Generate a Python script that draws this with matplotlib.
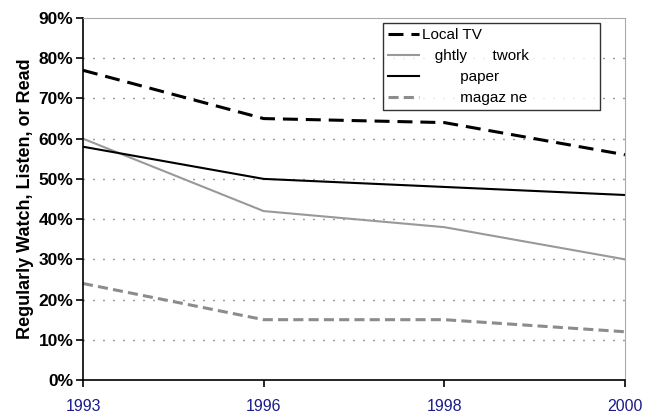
import matplotlib.pyplot as plt
from matplotlib.ticker import FuncFormatter

years = ['1993', '1996', '1998', '2000']
local_tv = [77, 65, 64, 56]
nightly_network = [60, 42, 38, 30]
newspaper = [58, 50, 48, 46]
magazine = [24, 15, 15, 12]
# legend text as it shows in the picture (some glyphs are missing there)
labels = ['Local TV', '   ghtly      twork', '         paper', '         magaz ne']

plt.rcParams['font.family'] = ['Liberation Sans', 'DejaVu Sans']

fig = plt.figure(figsize=(6.5, 4.16), dpi=100)
ax = fig.add_axes([0.1277, 0.0865, 0.8338, 0.8702])

x = range(len(years))
ax.plot(x, local_tv, color='black', lw=2.2, dashes=(4.9, 2.6), label=labels[0])
ax.plot(x, nightly_network, color='#999999', lw=1.5, label=labels[1])
ax.plot(x, newspaper, color='black', lw=1.5, label=labels[2])
ax.plot(x, magazine, color='#8c8c8c', lw=2.2, dashes=(3.3, 1.7), label=labels[3])

ax.set_xlim(0, 3)
ax.set_ylim(0, 90)
ax.set_yticks(range(0, 91, 10))
ax.yaxis.set_major_formatter(FuncFormatter(lambda v, p: f'{int(v)}%'))
ax.set_xticks(list(x))
ax.set_xticklabels(years, color='#1a1a8c', fontsize=11.5)
for t in ax.get_yticklabels():
    t.set_fontweight('bold')
    t.set_fontsize(12.5)
ax.tick_params(axis='x', direction='out', length=5, width=1.2, pad=9)
ax.tick_params(axis='y', direction='out', length=5, width=1.2, pad=2)

for y in range(10, 90, 10):
    ax.axhline(y, color='#333333', lw=1, ls=(0, (0.7, 6.5)), zorder=0)

ax.spines['left'].set_linewidth(1.2)
ax.spines['bottom'].set_linewidth(1.2)
ax.spines['top'].set_color('#aaaaaa')
ax.spines['right'].set_color('#aaaaaa')
ax.spines['top'].set_linewidth(0.8)
ax.spines['right'].set_linewidth(0.8)

ax.set_ylabel('Regularly Watch, Listen, or Read', fontweight='bold', fontsize=13, labelpad=3)

leg = ax.legend(loc='upper left', bbox_to_anchor=(0.5535, 0.0, 0.400, 0.986), mode='expand',
                borderaxespad=0, frameon=True, fancybox=False, edgecolor='black', fontsize=11,
                handlelength=2.0, borderpad=0.35, labelspacing=0.45, handletextpad=0.2)
leg.get_frame().set_linewidth(1.0)

fig.savefig('out.png', dpi=100)
